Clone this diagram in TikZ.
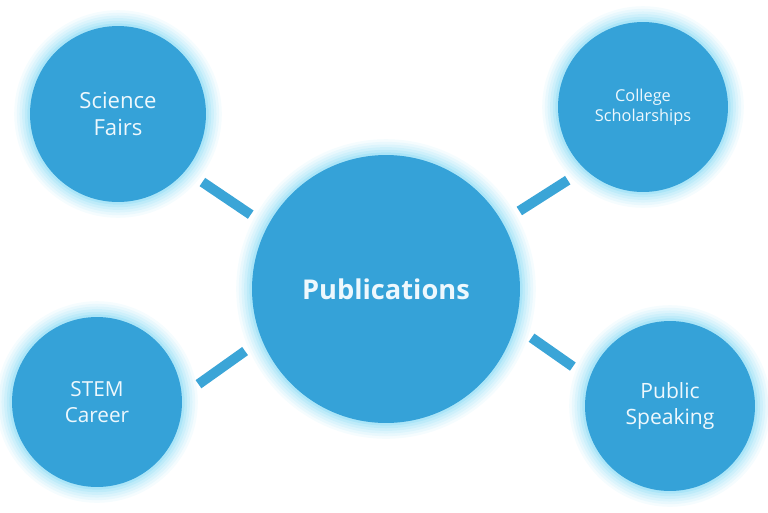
\documentclass[tikz,border=0pt]{standalone}
\usepackage{fontspec}
\setmainfont{Open Sans}
\usetikzlibrary{backgrounds}
\definecolor{cbubble}{HTML}{35A2D8}
\definecolor{cglow}{HTML}{7FD8F4}
\definecolor{cspoke}{HTML}{3BA5D7}
\definecolor{ctext}{HTML}{EEF8FD}

\begin{document}
\begin{tikzpicture}[
    x=0.02cm, y=-0.02cm,
    bubble/.style={circle, fill=cbubble, text=ctext, align=center, inner sep=0pt, outer sep=0pt,
        preaction={draw=cglow, line width=18pt, opacity=.08},
        preaction={draw=cglow, line width=15pt, opacity=.1},
        preaction={draw=cglow, line width=12pt, opacity=.12},
        preaction={draw=cglow, line width=9pt, opacity=.15},
        preaction={draw=cglow, line width=6pt, opacity=.2},
        preaction={draw=cglow, line width=3pt, opacity=.3}},
    spoke/.style={draw=cspoke, line width=0.2cm, shorten <=0.41cm, shorten >=0.41cm}
]
\useasboundingbox (0,0) rectangle (768,512);

% Centre
\node[bubble, minimum size=5.36cm, font=\fontsize{15.5}{18}\selectfont\bfseries] (pub) at (386,289) {Publications};

% Top row
\node[bubble, minimum size=3.52cm, font=\fontsize{12.6}{15.4}\selectfont] (fairs) at (118,114) {Science\\Fairs};

\node[bubble, minimum size=3.4cm, font=\fontsize{9.3}{11.4}\selectfont] (college) at (643,107) {College\\Scholarships};

% Bottom row
\node[bubble, minimum size=3.4cm, font=\fontsize{11.8}{15.2}\selectfont] (stem) at (97,402) {STEM\\Career};

\node[bubble, minimum size=3.4cm, font=\fontsize{12}{15.2}\selectfont] (speak) at (670,406) {Public\\Speaking};

% Spokes
\begin{scope}[every path/.style=spoke]
    \draw (fairs.320) -- (pub.152);
    \draw (pub.30) -- (college.227);
    \draw (stem.4) -- (pub.202);
    \draw (pub.344) -- (speak.161);
\end{scope}

\end{tikzpicture}
\end{document}
